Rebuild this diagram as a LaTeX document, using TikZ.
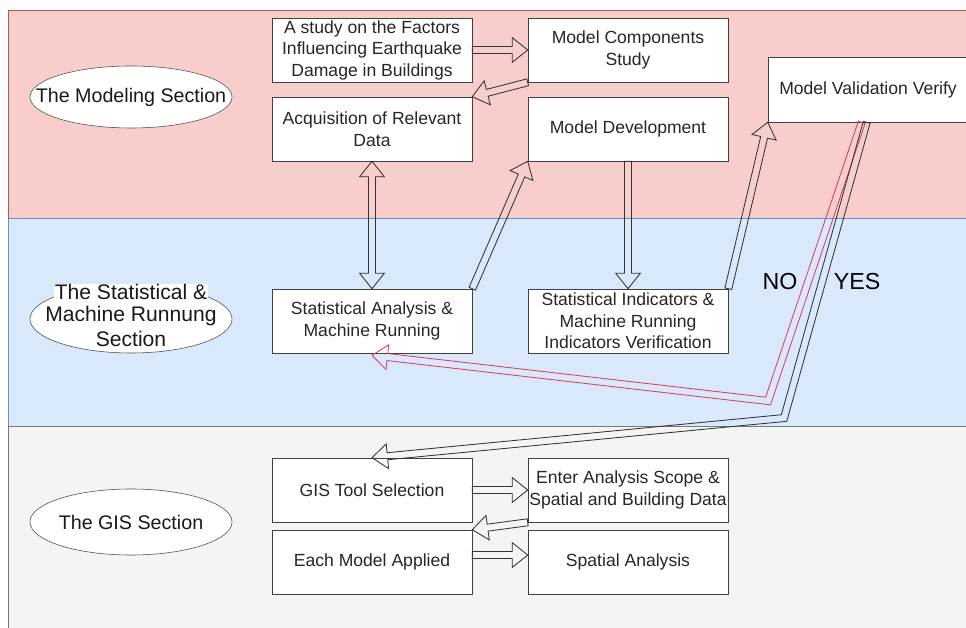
\documentclass[tikz,border=0pt]{standalone}
\usepackage{fontspec}
\setmainfont{Liberation Sans}
\usetikzlibrary{calc,shapes.geometric}

\definecolor{modfill}{HTML}{F8CECC}
\definecolor{modline}{HTML}{B85450}
\definecolor{statfill}{HTML}{DAE8FC}
\definecolor{statline}{HTML}{6C8EBF}
\definecolor{gisfill}{HTML}{F4F4F4}
\definecolor{gisline}{HTML}{777777}
\definecolor{noline}{HTML}{DC3C64}

\newcommand{\flexw}{2.5pt}
\newcommand{\flexhw}{8.8pt}
\newcommand{\flexhl}{11pt}

% hollow block arrow, tail -> tip
\newcommand{\flexarrow}[2]{%
    \coordinate (fh) at ($(#2)!\flexhl!(#1)$);
    \draw[flex] ($(#1)!\flexw!90:(#2)$) -- ($(fh)!\flexw!90:(#2)$) -- ($(fh)!\flexhw!90:(#2)$) -- (#2)
        -- ($(fh)!\flexhw!-90:(#2)$) -- ($(fh)!\flexw!-90:(#2)$) -- ($(#1)!\flexw!-90:(#2)$) -- cycle;
}
\newcommand{\flexdouble}[2]{%
    \coordinate (fh) at ($(#2)!\flexhl!(#1)$);
    \coordinate (ft) at ($(#1)!\flexhl!(#2)$);
    \draw[flex] (#1) -- ($(ft)!\flexhw!90:(#2)$) -- ($(ft)!\flexw!90:(#2)$) -- ($(fh)!\flexw!90:(#2)$)
        -- ($(fh)!\flexhw!90:(#2)$) -- (#2) -- ($(fh)!\flexhw!-90:(#2)$) -- ($(fh)!\flexw!-90:(#2)$)
        -- ($(ft)!\flexw!-90:(#2)$) -- ($(ft)!\flexhw!-90:(#2)$) -- cycle;
}
% tail, bend, tip
\newcommand{\flexbent}[4][black!80]{%
    \coordinate (fh) at ($(#4)!\flexhl!(#3)$);
    \coordinate (fla) at ($(#2)!\flexw!90:(#3)$);
    \coordinate (flb) at ($(#3)!\flexw!-90:(#2)$);
    \coordinate (flc) at ($(#3)!\flexw!90:(#4)$);
    \coordinate (fld) at ($(fh)!\flexw!90:(#4)$);
    \coordinate (fra) at ($(#2)!\flexw!-90:(#3)$);
    \coordinate (frb) at ($(#3)!\flexw!90:(#2)$);
    \coordinate (frc) at ($(#3)!\flexw!-90:(#4)$);
    \coordinate (frd) at ($(fh)!\flexw!-90:(#4)$);
    \draw[flex,draw=#1] (fla) -- (intersection of fla--flb and flc--fld) -- (fld) -- ($(fh)!\flexhw!90:(#4)$) -- (#4)
        -- ($(fh)!\flexhw!-90:(#4)$) -- (frd) -- (intersection of fra--frb and frc--frd) -- (fra) -- cycle;
}

\begin{document}
\begin{tikzpicture}[x=0.025cm,y=-0.025cm,
    box/.style={draw=black!75,fill=white,minimum width=5cm,minimum height=1.6cm,inner sep=0pt,align=center,
        font=\fontsize{12.5}{15.3}\selectfont,text=black!85},
    secell/.style={ellipse,draw=black!70,fill=white,minimum width=5.05cm,minimum height=1.55cm,inner sep=0pt},
    sectext/.style={font=\fontsize{14}{17}\selectfont,text=black!90,inner sep=0.5pt},
    flex/.style={draw=black!80,line width=0.6pt,line join=miter},
    answer/.style={font=\fontsize{16.5}{18}\selectfont,inner sep=0pt}]
    \useasboundingbox (0,0) rectangle (966,628);
    \draw[fill=modfill,draw=modline] (8,10) rectangle (980,218);
    \draw[fill=statfill,draw=statline] (8,218) rectangle (980,426);
    \draw[fill=gisfill,draw=gisline] (8,426) rectangle (980,640);

    \node[secell] (modsec) at (131,97) {};
    \node[sectext] (modtxt) at (modsec) {The Modeling Section};
    \node[secell,minimum height=1.7cm] (statsec) at (131,319) {};
    \node[sectext,fill=white,font=\fontsize{15}{17}\selectfont] (stattxta) at (131,292) {The Statistical \&};
    \node[sectext,fill=white,font=\fontsize{15}{17}\selectfont] (stattxtb) at (131,316) {Machine Runnung};
    \node[sectext,fill=white,font=\fontsize{15}{17}\selectfont] (stattxtc) at (131,339) {Section};
    \node[secell,minimum height=1.65cm] (gissec) at (131,522) {};
    \node[sectext] (gistxt) at (gissec) {The GIS Section};

    \node[box] (astudy) at (372,50) {A study on the Factors\\Influencing Earthquake\\Damage in Buildings};
    \node[box] (mcs) at (628,50) {Model Components\\Study};
    \node[box] (acq) at (372,129) {Acquisition of Relevant\\Data};
    \node[box] (md) at (628,129) {Model Development};
    \node[box,minimum height=1.625cm] (mvv) at (868,89.5) {Model Validation Verify};
    \node[box] (sa) at (372,321) {Statistical Analysis \&\\Machine Running};
    \node[box] (si) at (628,321) {Statistical Indicators \&\\Machine Running\\Indicators Verification};
    \node[box] (gis) at (372,490) {GIS Tool Selection};
    \node[box] (eas) at (628,490) {Enter Analysis Scope \&\\Spatial and Building Data};
    \node[box] (ema) at (372,562) {Each Model Applied};
    \node[box] (spa) at (628,562) {Spatial Analysis};

    \node[answer] (no) at (780,282) {NO};
    \node[answer] (yes) at (857,282) {YES};

    \flexarrow{astudy.east}{mcs.west}
    \flexarrow{mcs.south west}{acq.north east}
    \flexdouble{acq.south}{sa.north}
    \flexarrow{sa.north east}{md.south west}
    \flexarrow{md.south}{si.north}
    \flexarrow{si.north east}{mvv.south west}

    \coordinate (notail) at ($(mvv.south west)+(94,0)$);
    \coordinate (nobend) at (768,401);
    \coordinate (notip) at ($(sa.south)+(0,2)$);
    \flexbent[noline]{notail}{nobend}{notip}
    \coordinate (yestail) at ($(mvv.south west)+(99,0)$);
    \coordinate (yesbend) at (784,418);
    \flexbent{yestail}{yesbend}{gis.north}

    \flexarrow{gis.east}{eas.west}
    \flexarrow{eas.south west}{ema.north east}
    \coordinate (emaout) at ($(ema.east)+(0,-7)$);
    \coordinate (spain) at ($(spa.west)+(0,-7)$);
    \flexarrow{emaout}{spain}
\end{tikzpicture}
\end{document}
